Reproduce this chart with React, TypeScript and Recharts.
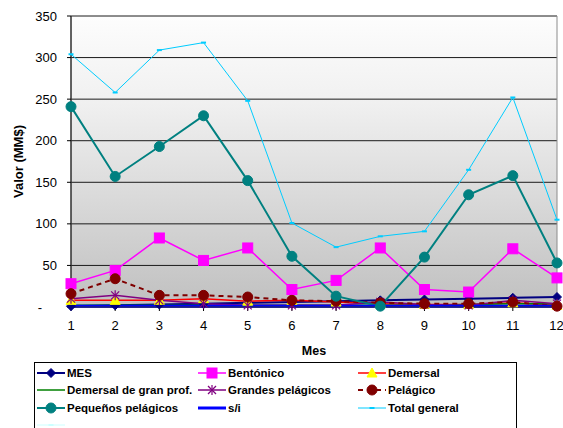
import React from "react";
import {
  LineChart,
  Line,
  XAxis,
  YAxis,
  CartesianGrid,
  Legend,
  ReferenceArea,
} from "recharts";

// Data
const months = ["1", "2", "3", "4", "5", "6", "7", "8", "9", "10", "11", "12"];
const mes = [1, 2, 3, 4, 5, 6, 7, 8, 9, 10, 11, 12];
const bentonico = [28, 44, 83, 56, 71, 21, 32, 71, 21, 18, 70, 35];
const demersal = [8, 8, 8, 10, 7, 8, 6, 4, 3, 3, 5, 2];
const demersalGranProf = [2, 2, 2, 2, 2, 2, 2, 2, 2, 3, 4, 4];
const grandesPelagicos = [10, 14, 8, 4, 2, 2, 2, 6, 3, 2, 8, 4];
const pelagico = [16, 34, 14, 14, 12, 8, 7, 5, 4, 4, 6, 1];
const pequenosPelagicos = [241, 157, 193, 230, 152, 61, 13, 1, 60, 135, 158, 53];
const sinInfo = [1, 1, 1, 1, 1, 1, 1, 1, 1, 1, 1, 1];
const totalGeneral = [304, 258, 309, 318, 248, 101, 72, 85, 91, 165, 252, 105];
const sinNombre = [null, null, null, null, null, null, null, null, null, null, null, null];
const yTicks = [0, 50, 100, 150, 200, 250, 300, 350];

const data = months.map((m, i) => ({
  month: m,
  mes: mes[i],
  bentonico: bentonico[i],
  demersal: demersal[i],
  demersalGranProf: demersalGranProf[i],
  grandesPelagicos: grandesPelagicos[i],
  pelagico: pelagico[i],
  pequenosPelagicos: pequenosPelagicos[i],
  sinInfo: sinInfo[i],
  totalGeneral: totalGeneral[i],
  sinNombre: sinNombre[i],
}));

const font = '"Liberation Sans", Arial, sans-serif';

// marker drawing, used for dots and legend icons
function Marker({ shape, x, y }: any) {
  switch (shape) {
    case "diamond":
      return <polygon points={`${x},${y - 4.5} ${x + 4.5},${y} ${x},${y + 4.5} ${x - 4.5},${y}`} fill="#000080" stroke="#000080" />;
    case "square":
      return <rect x={x - 5} y={y - 5} width={10} height={10} fill="#ff00ff" stroke="#ff00ff" />;
    case "triangle":
      return <polygon points={`${x},${y - 5} ${x + 5},${y + 4} ${x - 5},${y + 4}`} fill="#ffff00" stroke="#ffff00" />;
    case "star":
      return (
        <g stroke="#800080" strokeWidth={1.2}>
          <line x1={x - 4} y1={y - 4} x2={x + 4} y2={y + 4} />
          <line x1={x - 4} y1={y + 4} x2={x + 4} y2={y - 4} />
          <line x1={x} y1={y - 5} x2={x} y2={y + 5} />
        </g>
      );
    case "circleRed":
      return <circle cx={x} cy={y} r={5} fill="#800000" stroke="#800000" />;
    case "circleTeal":
      return <circle cx={x} cy={y} r={5} fill="#008080" stroke="#008080" />;
    case "dash":
      return <rect x={x - 2.5} y={y - 1} width={5} height={2} fill="#00ccff" />;
    case "dashLight":
      return <rect x={x - 2.5} y={y - 1} width={5} height={2} fill="#ccffff" />;
    default:
      return null;
  }
}

const dotOf = (shape: string) => (props: any) => {
  const { cx, cy, index } = props;
  if (cx == null || cy == null) return <g key={`e-${index}`} />;
  return (
    <g key={`${shape}-${index}`}>
      <Marker shape={shape} x={cx} y={cy} />
    </g>
  );
};

const series = [
  { key: "mes", name: "MES", color: "#000080", width: 2, shape: "diamond" },
  { key: "bentonico", name: "Bentónico", color: "#ff00ff", width: 1.5, shape: "square" },
  { key: "demersal", name: "Demersal", color: "#ff0000", width: 1.5, shape: "triangle" },
  { key: "demersalGranProf", name: "Demersal de gran prof.", color: "#008000", width: 1.5, shape: "" },
  { key: "grandesPelagicos", name: "Grandes pelágicos", color: "#800080", width: 1.5, shape: "star" },
  { key: "pelagico", name: "Pelágico", color: "#800000", width: 2, shape: "circleRed", dash: "5 4" },
  { key: "pequenosPelagicos", name: "Pequeños pelágicos", color: "#008080", width: 2, shape: "circleTeal" },
  { key: "sinInfo", name: "s/i", color: "#0000ff", width: 3, shape: "" },
  { key: "totalGeneral", name: "Total general", color: "#00ccff", width: 1, shape: "dash" },
  { key: "sinNombre", name: "", color: "#ccffff", width: 1, shape: "dashLight" },
];

function LegendBox() {
  return (
    <div
      style={{
        boxSizing: "border-box",
        width: 483,
        height: 75,
        border: "1px solid #000",
        background: "#fff",
        paddingLeft: 2,
        paddingTop: 1,
        display: "grid",
        gridTemplateColumns: "161px 160px 160px",
        gridAutoRows: "17.5px",
        fontFamily: font,
        fontSize: 11.5,
        fontWeight: "bold",
        color: "#000",
      }}
    >
      {series.map((s) => (
        <div key={s.key} style={{ display: "flex", alignItems: "center", whiteSpace: "nowrap" }}>
          <svg width={28} height={12} style={{ flex: "none" }}>
            <line x1={0} y1={6} x2={28} y2={6} stroke={s.color} strokeWidth={s.width} strokeDasharray={s.dash} />
            <Marker shape={s.shape} x={14} y={6} />
          </svg>
          <span style={{ marginLeft: 2 }}>{s.name}</span>
        </div>
      ))}
    </div>
  );
}

function YTick({ x, y, payload }: any) {
  const zero = payload.value === 0;
  return (
    <text x={zero ? x - 15 : x} y={y} dy={4.5} textAnchor="end" fontSize={13} fontFamily={font} fill="#000">
      {zero ? "-" : payload.value}
    </text>
  );
}

function YTitle(props: any) {
  const vb = props.viewBox || { x: 0, y: 16, width: 71, height: 291 };
  const cx = vb.x + 18;
  const cy = vb.y + vb.height / 2;
  return (
    <text x={cx} y={cy} transform={`rotate(-90 ${cx} ${cy})`} textAnchor="middle" dominantBaseline="central"
      fontSize={13} fontWeight="bold" fontFamily={font} fill="#000">
      Valor (MM$)
    </text>
  );
}

function XTitle(props: any) {
  const vb = props.viewBox || { x: 71, y: 307, width: 486, height: 46 };
  return (
    <text x={vb.x + vb.width / 2} y={354.5} textAnchor="middle" fontSize={12.5} fontWeight="bold" fontFamily={font} fill="#000">
      Mes
    </text>
  );
}

export default function App() {
  return (
    <div style={{ position: "absolute", left: 0, top: 0, background: "#fff" }}>
      <LineChart width={563} height={428} data={data} margin={{ top: 16, right: 6, left: 0, bottom: 0 }}>
        <defs>
          <linearGradient id="plotBg" x1="0" y1="0" x2="0" y2="1">
            <stop offset="0%" stopColor="#fdfdfd" />
            <stop offset="30%" stopColor="#f0f0f0" />
            <stop offset="100%" stopColor="#c0c0c0" />
          </linearGradient>
        </defs>
        <CartesianGrid vertical={false} stroke="#1a1a1a" fill="url(#plotBg)" fillOpacity={1} />
        <ReferenceArea y1={0} y2={350} fill="none" stroke="#8c8c8c" strokeOpacity={1} ifOverflow="visible" />
        <XAxis
          dataKey="month"
          height={46}
          tickSize={4}
          tickMargin={10}
          tick={{ fontSize: 13, fill: "#000", fontFamily: font }}
          axisLine={{ stroke: "#333" }}
          tickLine={{ stroke: "#000" }}
          label={<XTitle />}
        />
        <YAxis
          width={71}
          domain={[0, 350]}
          ticks={yTicks}
          tickSize={4}
          tickMargin={10}
          tick={<YTick />}
          axisLine={{ stroke: "#000" }}
          tickLine={{ stroke: "#000" }}
          label={<YTitle />}
        />
        <Legend
          content={<LegendBox />}
          wrapperStyle={{ position: "absolute", left: 34, top: 362, bottom: "auto", width: 483, height: 75 }}
        />
        {series.map((s) => (
          <Line
            key={s.key}
            dataKey={s.key}
            name={s.name || " "}
            stroke={s.color}
            strokeWidth={s.width}
            strokeDasharray={s.dash}
            dot={s.shape ? dotOf(s.shape) : false}
            activeDot={false}
            isAnimationActive={false}
            connectNulls={false}
          />
        ))}
      </LineChart>
    </div>
  );
}
